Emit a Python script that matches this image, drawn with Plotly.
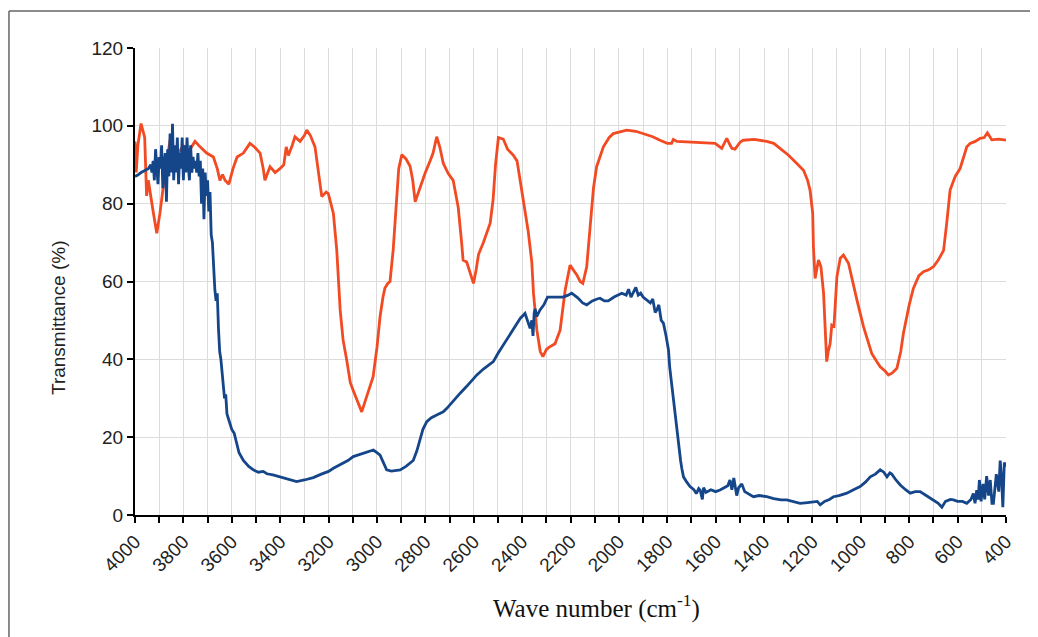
import plotly.graph_objects as go

# ---------------- data ----------------
orange_wn = [4000, 3995, 3988, 3975, 3960, 3952, 3945, 3935, 3925, 3910, 3897, 3876, 3860, 3855, 3842,
             3820, 3800, 3785, 3766, 3752, 3731, 3704, 3676, 3660, 3649, 3638, 3628, 3612, 3595, 3578,
             3552, 3525, 3505, 3483, 3470, 3463, 3442, 3421, 3401, 3385, 3375, 3366, 3350, 3339, 3318,
             3300, 3290, 3275, 3256, 3240, 3228, 3210, 3201, 3180, 3166, 3152, 3140, 3125, 3110, 3098,
             3080, 3063, 3050, 3042, 3030, 3016, 3000, 2987, 2975, 2967, 2955, 2946, 2933, 2920, 2910,
             2897, 2880, 2863, 2852, 2842, 2822, 2800, 2780, 2768, 2753, 2740, 2726, 2706, 2685, 2664,
             2650, 2644, 2629, 2615, 2601, 2590, 2580, 2560, 2532, 2520, 2510, 2498, 2478, 2460, 2437,
             2421, 2396, 2375, 2360, 2353, 2339, 2325, 2314, 2300, 2291, 2264, 2243, 2222, 2202, 2174,
             2160, 2149, 2133, 2126, 2119, 2105, 2092, 2064, 2040, 2023, 1968, 1930, 1899, 1860, 1830,
             1800, 1782, 1775, 1760, 1700, 1664, 1620, 1602, 1575, 1554, 1540, 1533, 1520, 1499, 1486,
             1440, 1389, 1360, 1334, 1300, 1279, 1260, 1237, 1220, 1210, 1199, 1196, 1189, 1175, 1165,
             1154, 1141, 1135, 1127, 1120, 1111, 1099, 1085, 1072, 1051, 1035, 1016, 989, 970, 955,
             935, 920, 900, 886, 870, 851, 835, 824, 800, 783, 760, 741, 720, 700, 680,
             658, 645, 631, 610, 590, 575, 562, 548, 527, 507, 490, 477, 459, 430, 400]
orange_t = [96, 88, 95, 100.6, 97, 82, 86, 81.5, 78, 72.4, 77.5, 87.8, 95, 96.4, 94.2,
            93, 95, 93, 94.6, 96, 94.6, 93, 92, 89, 86, 87.5, 86, 85, 89, 92,
            93, 95.5, 94.5, 93, 89, 86, 89.5, 88, 89, 90, 94.6, 92.4, 95, 97.2, 96,
            97.5, 98.9, 97.5, 94.6, 88, 81.8, 83, 82.6, 77.5, 68, 52.7, 45, 39.8, 34, 32,
            29, 26.5, 29, 30.4, 32.5, 35.5, 43, 51, 56, 58.3, 59.5, 60, 68, 80, 89,
            92.6, 91.5, 89.6, 86, 80.5, 84.3, 88, 91, 93, 97.2, 94.5, 90.4, 87.8, 86, 79,
            70, 65.5, 65, 62, 59.5, 63, 67, 70, 75, 81, 90, 97, 96.6, 94, 92.5,
            91, 81.8, 73, 65, 57, 47.5, 42, 40.7, 42.5, 43, 44, 47.5, 57.8, 64.2, 61.7,
            60, 59.5, 63.8, 68, 74, 84, 89.5, 94.6, 97, 98, 98.9, 98.6, 98, 97.2, 96.3,
            95.5, 95.5, 96.5, 96, 95.8, 95.8, 95.5, 95.5, 94.2, 96.8, 95, 94.2, 94, 95.8, 96.3,
            96.5, 96, 95.5, 94.2, 92.5, 91.2, 90, 88.6, 86, 83.5, 77.6, 69, 60.8, 65.5, 63.8,
            57, 39.4, 42, 44, 48.8, 48.5, 61.2, 66, 66.8, 64.7, 60, 55.2, 48.4, 44.5, 41.5,
            39.5, 38.1, 37, 36, 36.5, 37.7, 42, 46.7, 54, 58.2, 61.5, 62.5, 63, 63.8, 65.5,
            68, 75, 83.5, 87, 89, 92, 94.6, 95.5, 96, 96.8, 97, 98.2, 96.4, 96.6, 96.3]

blue_wn = [4000, 3990, 3975, 3960, 3945, 3935, 3930, 3925, 3920, 3915, 3910, 3905, 3900, 3895, 3890,
           3885, 3880, 3875, 3870, 3865, 3860, 3855, 3850, 3845, 3840, 3835, 3830, 3825, 3820, 3815,
           3810, 3805, 3800, 3795, 3790, 3785, 3780, 3775, 3770, 3765, 3760, 3755, 3750, 3745, 3740,
           3735, 3730, 3725, 3720, 3715, 3710, 3705, 3700, 3695, 3690, 3685, 3680, 3675, 3670, 3665,
           3660, 3655, 3650, 3645, 3640, 3635, 3630, 3625, 3620, 3615, 3607, 3600, 3590, 3580, 3570,
           3552, 3530, 3511, 3490, 3470, 3455, 3430, 3401, 3380, 3360, 3332, 3300, 3263, 3230, 3200,
           3180, 3150, 3120, 3098, 3060, 3030, 3015, 3000, 2987, 2970, 2960, 2940, 2920, 2904, 2880,
           2860, 2850, 2835, 2822, 2810, 2794, 2775, 2753, 2726, 2711, 2690, 2670, 2656, 2630, 2610,
           2587, 2560, 2540, 2519, 2500, 2480, 2463, 2440, 2420, 2408, 2388, 2378, 2367, 2360, 2355,
           2350, 2346, 2340, 2326, 2310, 2295, 2284, 2260, 2230, 2210, 2195, 2170, 2150, 2133, 2110,
           2090, 2078, 2060, 2044, 2020, 1988, 1970, 1960, 1950, 1940, 1930, 1920, 1910, 1900, 1885,
           1870, 1860, 1850, 1843, 1835, 1825, 1816, 1805, 1795, 1790, 1782, 1775, 1767, 1760, 1754,
           1745, 1740, 1733, 1720, 1706, 1690, 1680, 1670, 1664, 1655, 1650, 1640, 1620, 1600, 1582,
           1565, 1550, 1541, 1533, 1525, 1513, 1505, 1499, 1492, 1480, 1465, 1444, 1420, 1389, 1360,
           1330, 1306, 1280, 1251, 1220, 1196, 1180, 1168, 1150, 1130, 1113, 1090, 1058, 1030, 1003,
           980, 961, 940, 920, 905, 892, 880, 872, 855, 837, 815, 796, 775, 755, 730,
           700, 680, 665, 650, 630, 617, 600, 580, 562, 545, 535, 528, 521, 515, 510,
           503, 495, 488, 480, 472, 465, 458, 452, 445, 440, 430, 424, 418, 413, 407, 400]
blue_t = [87, 87.3, 88, 88.5, 89, 90, 88, 91, 86, 94, 88, 85, 92, 89, 95,
          84, 90, 93, 80.5, 94, 87, 98, 88, 100.5, 86, 95, 88, 97, 85, 93,
          89, 97, 86, 95, 88, 97, 90, 86, 95, 88, 92, 89, 91, 88, 93,
          87, 91, 80, 89, 76, 88, 82, 86, 78, 83, 72, 70, 63, 58, 55,
          57, 48, 42, 40, 36, 33, 30, 31, 26, 25, 23.6, 22, 21, 18.5, 16,
          14, 12.5, 11.6, 11, 11.2, 10.6, 10.3, 9.8, 9.3, 9, 8.6, 9, 9.6, 10.5, 11.2,
          12, 13, 14, 15, 15.8, 16.5, 16.7, 16, 15.4, 13, 11.6, 11.3, 11.5, 11.6, 12.5,
          13.5, 14, 16.5, 19.3, 22, 24, 25, 25.7, 26.5, 27.4, 29, 30.5, 31.3, 33, 34.5,
          36, 37.5, 38.5, 39.4, 41.5, 43.5, 45, 47.5, 49.5, 50.5, 51.8, 50, 48, 50, 46,
          52, 53, 51, 52.7, 54, 56, 56, 56, 56, 56.5, 57, 55.8, 54.5, 54, 55,
          55.5, 55.7, 55, 55, 56, 57, 56.5, 58, 56, 57.3, 58.5, 56.5, 57, 56, 55.2,
          54.5, 55.5, 52, 52.7, 54, 50, 49.3, 46, 42.4, 38, 33.8, 30, 25.3, 21, 17.5,
          14, 12, 9.8, 8.5, 7.3, 6.5, 5.5, 6.8, 6.4, 4, 7, 5.8, 6.5, 6, 6.4,
          7, 7.5, 9, 6.5, 9.5, 5, 7, 7.5, 8, 6, 5.5, 4.7, 5, 4.7, 4.2,
          3.9, 3.9, 3.5, 3, 3.2, 3.4, 3.5, 2.6, 3.5, 4, 4.7, 5, 5.6, 6.5, 7.3,
          8.5, 9.8, 10.5, 11.6, 11, 9.8, 10.8, 10.5, 9, 7.7, 6.5, 5.6, 6, 6, 5,
          3.9, 3, 2, 3.5, 4, 3.9, 3.5, 3.5, 3, 4, 5.5, 3, 6.4, 4, 9,
          3.5, 8, 4, 10, 5, 9, 3, 3, 7, 10.5, 6, 14, 9, 2, 13.5, 12.4]

x_tick_values = list(range(400, 4001, 200))
x_tick_labels = [str(v) for v in x_tick_values]
y_tick_values = [0, 20, 40, 60, 80, 100, 120]

# ---------------- figure ----------------
fig = go.Figure()
fig.add_trace(go.Scatter(x=orange_wn, y=orange_t, mode="lines",
                         line=dict(color="#f24a22", width=2.8), showlegend=False))
fig.add_trace(go.Scatter(x=blue_wn, y=blue_t, mode="lines",
                         line=dict(color="#16468a", width=2.8), showlegend=False))

tick_font = dict(family="Liberation Sans, Arial, sans-serif", size=19, color="#222222")

fig.update_layout(
    width=1030, height=629,
    margin=dict(l=127, r=32, t=40, b=122),
    paper_bgcolor="white", plot_bgcolor="white",
    xaxis=dict(range=[4000, 400], tickmode="array", tickvals=x_tick_values, ticktext=x_tick_labels,
               tickangle=-45, tickfont=tick_font, showgrid=True, gridcolor="#dcdcdc", gridwidth=1,
               showline=True, linecolor="black", linewidth=2, ticks="outside", ticklen=6,
               tickwidth=2, tickcolor="black", zeroline=False,
               minor=dict(tickmode="linear", tick0=0, dtick=100, ticks="outside", ticklen=6,
                          tickwidth=2, tickcolor="black", showgrid=True, gridcolor="#dcdcdc",
                          gridwidth=1)),
    yaxis=dict(range=[0, 120], tickmode="array", tickvals=y_tick_values, tickfont=tick_font,
               showgrid=True, gridcolor="#dcdcdc", gridwidth=1, showline=True, linecolor="black",
               linewidth=2, ticks="outside", ticklen=6, tickwidth=2, tickcolor="black",
               zeroline=False),
    annotations=[
        dict(text="Transmittance (%)", xref="paper", yref="paper", x=-0.0884, y=0.4218,
             textangle=-90, showarrow=False, xanchor="center", yanchor="middle",
             font=dict(family="Liberation Sans, Arial, sans-serif", size=19, color="#222222")),
        dict(text="Wave number (cm<sup>-1</sup>)", xref="paper", yref="paper", x=0.530, y=-0.197,
             showarrow=False, xanchor="center", yanchor="middle",
             font=dict(family="Liberation Serif, Times New Roman, serif", size=25, color="#111111")),
    ],
    shapes=[
        dict(type="line", xref="paper", yref="paper", x0=-0.1447, x1=1.05, y0=1.0792, y1=1.0792,
             line=dict(color="#666666", width=1.5)),
        dict(type="line", xref="paper", yref="paper", x0=-0.1447, x1=-0.1447, y0=1.0792, y1=-0.3,
             line=dict(color="#666666", width=1.5)),
    ],
)

fig.write_html("out.html")
